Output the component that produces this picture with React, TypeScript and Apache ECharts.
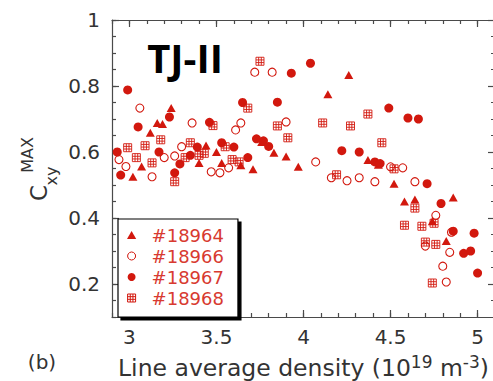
import { useEffect, useRef } from 'react';
import * as echarts from 'echarts';

// ---- data (line average density [1e19 m^-3], C_xy^MAX) ----
const shot18964: [number, number][] = [
  [3.02, 0.525], [3.07, 0.556], [3.12, 0.658], [3.16, 0.688], [3.19, 0.685], [3.24, 0.733],
  [3.40, 0.567], [3.44, 0.62], [3.50, 0.60], [3.53, 0.567], [3.64, 0.56], [3.71, 0.548],
  [3.76, 0.63], [3.83, 0.598], [3.90, 0.586], [3.97, 0.555], [4.14, 0.775], [4.26, 0.833],
  [4.37, 0.576], [4.43, 0.561], [4.52, 0.504], [4.58, 0.45], [4.64, 0.456], [4.74, 0.39],
  [4.82, 0.33], [4.86, 0.462],
];
const shot18966: [number, number][] = [
  [2.94, 0.577], [2.98, 0.556], [3.06, 0.733], [3.13, 0.525], [3.20, 0.583], [3.26, 0.588],
  [3.30, 0.616], [3.36, 0.688], [3.47, 0.54], [3.52, 0.537], [3.57, 0.552], [3.61, 0.667],
  [3.64, 0.688], [3.72, 0.842], [3.82, 0.842], [3.90, 0.691], [4.07, 0.57], [4.16, 0.522],
  [4.25, 0.513], [4.32, 0.522], [4.41, 0.51], [4.50, 0.555], [4.57, 0.552], [4.64, 0.51],
  [4.70, 0.315], [4.76, 0.408], [4.80, 0.254], [4.82, 0.206], [4.84, 0.296], [4.85, 0.357],
];
const shot18967: [number, number][] = [
  [2.93, 0.60], [2.95, 0.53], [2.99, 0.788], [3.05, 0.676], [3.17, 0.60], [3.23, 0.706],
  [3.26, 0.537], [3.29, 0.564], [3.35, 0.59], [3.39, 0.615], [3.46, 0.69], [3.53, 0.628],
  [3.60, 0.615], [3.65, 0.75], [3.68, 0.583], [3.73, 0.64], [3.77, 0.634], [3.80, 0.617],
  [3.85, 0.751], [3.93, 0.839], [4.04, 0.869], [4.22, 0.604], [4.32, 0.60], [4.41, 0.57],
  [4.44, 0.565], [4.49, 0.733], [4.60, 0.703], [4.66, 0.70], [4.71, 0.504], [4.79, 0.444],
  [4.86, 0.36], [4.92, 0.293], [4.96, 0.30], [4.98, 0.354], [5.0, 0.233],
];
const shot18968: [number, number][] = [
  [2.99, 0.613], [3.04, 0.583], [3.09, 0.619], [3.13, 0.567], [3.18, 0.637], [3.26, 0.51],
  [3.32, 0.583], [3.35, 0.628], [3.40, 0.59], [3.43, 0.596], [3.48, 0.68], [3.55, 0.616],
  [3.59, 0.577], [3.63, 0.57], [3.68, 0.733], [3.75, 0.875], [3.85, 0.679], [3.91, 0.643],
  [4.11, 0.688], [4.19, 0.531], [4.27, 0.679], [4.37, 0.715], [4.45, 0.628], [4.52, 0.549],
  [4.58, 0.378], [4.64, 0.43], [4.68, 0.375], [4.70, 0.327], [4.74, 0.203], [4.75, 0.384],
  [4.76, 0.32],
];
const seriesNames = ['#18964', '#18966', '#18967', '#18968'];
const xMajorTicks = [3, 3.5, 4, 4.5, 5];
const yMajorTicks = [0.2, 0.4, 0.6, 0.8, 1];

const RED = '#d2180e';
const LEGEND_TEXT = '#d83a30';
const AXIS = '#4a4a4a';
const LABEL = '#333';
const FONT = 'DejaVu Sans';
const TRI = 'path://M5,0L10,8.7L0,8.7Z';
const BOX = 'path://M0,0L9,0L9,9L0,9Z M3,0L3,9 M6,0L6,9 M0,3L9,3 M0,6L9,6';

export default function App() {
  const ref = useRef<HTMLDivElement>(null);
  useEffect(() => {
    document.body.style.margin = '0';
    const chart = echarts.init(ref.current!, null, { renderer: 'svg', width: 493, height: 381 });
    const lineStyle = { color: AXIS, width: 1.2 };
    const minorAxis = (pos: string, min: number, max: number, interval: number) => ({
      type: 'value', position: pos, min, max, interval,
      axisLine: { show: true, onZero: false, lineStyle },
      axisTick: { show: true, inside: true, length: 4, lineStyle },
      axisLabel: { show: false },
      splitLine: { show: false },
    });
    const majorAxis = (pos: string, min: number, max: number, ticks: number[], labels: boolean, margin: number) => ({
      type: 'value', position: pos, min, max,
      axisLine: { show: false, onZero: false },
      axisTick: { show: true, inside: true, length: 7, lineStyle, customValues: ticks },
      axisLabel: labels
        ? { show: true, customValues: ticks, fontFamily: FONT, fontSize: 20, color: LABEL, margin, formatter: (v: number) => String(v) }
        : { show: false },
      splitLine: { show: false },
    });
    const xB: any = majorAxis('bottom', 2.9, 5.1, xMajorTicks, true, 10);
    xB.name = '{a|Line average density (10}{s|19}{a| m}{s|-3}{a|)}';
    xB.nameLocation = 'middle';
    xB.nameGap = 36;
    xB.nameTextStyle = {
      fontFamily: FONT, color: LABEL,
      rich: {
        a: { fontFamily: FONT, fontSize: 23.5, lineHeight: 30, color: LABEL },
        s: { fontFamily: FONT, fontSize: 17, lineHeight: 12, verticalAlign: 'top', color: LABEL },
      },
    };
    const option: any = {
      animation: false,
      backgroundColor: '#fff',
      grid: { left: 112, top: 20, width: 383, height: 297, containLabel: false, outerBoundsMode: 'none' },
      xAxis: [
        minorAxis('bottom', 2.9, 5.1, 0.1),
        xB,
        minorAxis('top', 2.9, 5.1, 0.1),
        majorAxis('top', 2.9, 5.1, xMajorTicks, false, 0),
      ],
      yAxis: [
        minorAxis('left', 0.1, 1, 0.05),
        majorAxis('left', 0.1, 1, yMajorTicks, true, 12),
        minorAxis('right', 0.1, 1, 0.05),
        majorAxis('right', 0.1, 1, yMajorTicks, false, 0),
      ],
      legend: {
        orient: 'vertical', left: 118, top: 219,
        itemWidth: 30, itemHeight: 8, itemGap: 3,
        padding: [7, 14, 10, 9],
        borderColor: '#000', borderWidth: 1.2, backgroundColor: '#fff',
        shadowColor: '#000', shadowOffsetX: 3, shadowOffsetY: 3, shadowBlur: 0,
        selectedMode: false,
        itemStyle: { borderWidth: 1 },
        textStyle: { fontFamily: FONT, fontSize: 18, lineHeight: 18, color: LEGEND_TEXT },
        data: [
          { name: seriesNames[0], icon: TRI },
          { name: seriesNames[1], icon: 'circle' },
          { name: seriesNames[2], icon: 'circle' },
          { name: seriesNames[3], icon: BOX },
        ],
      },
      series: [
        {
          name: seriesNames[0], type: 'scatter', data: shot18964,
          symbol: 'triangle', symbolSize: [9, 8],
          itemStyle: { color: RED, opacity: 1 },
        },
        {
          name: seriesNames[1], type: 'scatter', data: shot18966,
          symbol: 'circle', symbolSize: 8,
          itemStyle: { color: 'rgba(0,0,0,0)', borderColor: RED, borderWidth: 1.1, opacity: 1 },
        },
        {
          name: seriesNames[2], type: 'scatter', data: shot18967,
          symbol: 'circle', symbolSize: 9,
          itemStyle: { color: RED, opacity: 1 },
        },
        {
          name: seriesNames[3], type: 'scatter', data: shot18968,
          symbol: BOX, symbolSize: 8,
          itemStyle: { color: 'rgba(0,0,0,0)', borderColor: RED, borderWidth: 0.9, opacity: 1 },
        },
      ],
      graphic: [
        { type: 'text', x: 185, y: 57, style: { text: 'TJ-II', fontFamily: 'Open Sans', fontWeight: 'bold', fontSize: 40, fill: '#000', align: 'center', verticalAlign: 'middle' } },
        { type: 'text', x: 42, y: 362, style: { text: '(b)', fontFamily: FONT, fontSize: 20, fill: LABEL, align: 'center', verticalAlign: 'middle' } },
        { type: 'text', x: 39, y: 193, rotation: Math.PI / 2, style: { text: 'C', fontFamily: FONT, fontSize: 23, fill: LABEL, align: 'center', verticalAlign: 'middle' } },
        { type: 'text', x: 51, y: 176, rotation: Math.PI / 2, style: { text: 'xy', fontFamily: FONT, fontSize: 16, fill: LABEL, align: 'center', verticalAlign: 'middle' } },
        { type: 'text', x: 27.5, y: 155, rotation: Math.PI / 2, style: { text: 'MAX', fontFamily: FONT, fontSize: 16, fill: LABEL, align: 'center', verticalAlign: 'middle' } },
      ],
    };
    chart.setOption(option);
    return () => chart.dispose();
  }, []);
  return <div ref={ref} style={{ width: 493, height: 381 }} />;
}
